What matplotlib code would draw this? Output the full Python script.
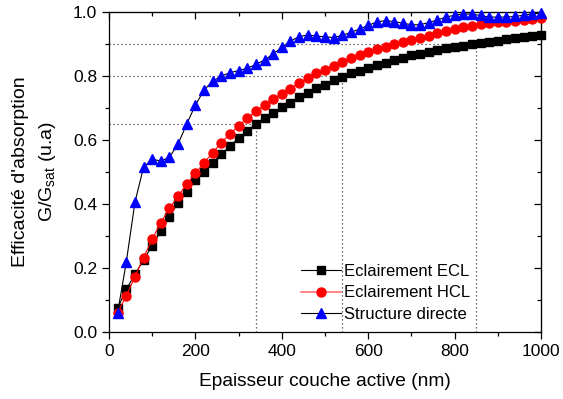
import matplotlib
matplotlib.use("Agg")
import matplotlib.pyplot as plt
from matplotlib.ticker import MultipleLocator

plt.rcParams['font.family'] = ['Liberation Sans', 'DejaVu Sans']
plt.rcParams['mathtext.fontset'] = 'custom'
plt.rcParams['mathtext.rm'] = 'Liberation Sans'
plt.rcParams['mathtext.it'] = 'Liberation Sans'

# thickness (nm)
epaisseur = [20, 40, 60, 80, 100, 120, 140, 160, 180, 200,
             220, 240, 260, 280, 300, 320, 340, 360, 380, 400,
             420, 440, 460, 480, 500, 520, 540, 560, 580, 600,
             620, 640, 660, 680, 700, 720, 740, 760, 780, 800,
             820, 840, 860, 880, 900, 920, 940, 960, 980, 1000]

ecl = [0.074, 0.133, 0.180, 0.225, 0.270, 0.316, 0.360, 0.404, 0.438, 0.475,
       0.500, 0.529, 0.556, 0.581, 0.606, 0.629, 0.650, 0.668, 0.685, 0.702,
       0.717, 0.733, 0.748, 0.761, 0.772, 0.786, 0.796, 0.808, 0.817, 0.826,
       0.834, 0.842, 0.850, 0.857, 0.864, 0.869, 0.874, 0.881, 0.886, 0.892,
       0.895, 0.899, 0.904, 0.907, 0.910, 0.915, 0.918, 0.921, 0.925, 0.928]

hcl = [0.060, 0.113, 0.173, 0.232, 0.290, 0.342, 0.386, 0.425, 0.462, 0.496,
       0.529, 0.560, 0.592, 0.619, 0.644, 0.668, 0.689, 0.708, 0.727, 0.744,
       0.760, 0.777, 0.794, 0.808, 0.820, 0.832, 0.845, 0.855, 0.866, 0.876,
       0.883, 0.892, 0.900, 0.905, 0.912, 0.918, 0.926, 0.933, 0.940, 0.947,
       0.952, 0.957, 0.961, 0.965, 0.968, 0.970, 0.973, 0.975, 0.978, 0.982]

directe = [0.060, 0.218, 0.405, 0.515, 0.540, 0.534, 0.546, 0.588, 0.650, 0.709,
           0.756, 0.784, 0.800, 0.810, 0.817, 0.824, 0.836, 0.850, 0.869, 0.889,
           0.909, 0.923, 0.928, 0.925, 0.922, 0.920, 0.927, 0.936, 0.947, 0.958,
           0.969, 0.973, 0.970, 0.965, 0.960, 0.960, 0.967, 0.975, 0.984, 0.990,
           0.994, 0.993, 0.989, 0.984, 0.984, 0.984, 0.986, 0.990, 0.994, 0.996]

# reference levels (thickness, efficiency)
ref_x = [340, 540, 850]
ref_y = [0.65, 0.80, 0.90]

fig = plt.figure(figsize=(5.63, 3.99), dpi=100)
ax = fig.add_axes([0.1936, 0.168, 0.7674, 0.802])

dot = (0, (1, 2.2))
for rx, ry in zip(ref_x, ref_y):
    ax.plot([0, rx], [ry, ry], color="0.25", lw=0.9, ls=dot, zorder=1)
    ax.plot([rx, rx], [0, ry], color="0.25", lw=0.9, ls=dot, zorder=1)

ax.plot(epaisseur, ecl, color="black", lw=0.8, marker="s", ms=5.5,
        mfc="black", mec="black", clip_on=False, zorder=3)
ax.plot(epaisseur, hcl, color="red", lw=0.8, marker="o", ms=6.5,
        mfc="red", mec="red", clip_on=False, zorder=4)
ax.plot(epaisseur, directe, color="black", lw=0.8, marker="^", ms=7,
        mfc="blue", mec="blue", clip_on=False, zorder=5)

# legend handles (HCL line drawn lighter, as in the original)
h1, = ax.plot([], [], color="black", lw=0.8, marker="s", ms=5.5, mfc="black", mec="black")
h2, = ax.plot([], [], color="#ff7070", lw=1.2, marker="o", ms=6.5, mfc="red", mec="red")
h3, = ax.plot([], [], color="black", lw=0.8, marker="^", ms=7, mfc="blue", mec="blue")

ax.set_xlim(0, 1000)
ax.set_ylim(0, 1.0)
ax.xaxis.set_major_locator(MultipleLocator(200))
ax.xaxis.set_minor_locator(MultipleLocator(100))
ax.yaxis.set_major_locator(MultipleLocator(0.2))
ax.yaxis.set_minor_locator(MultipleLocator(0.1))
ax.yaxis.set_major_formatter(matplotlib.ticker.FormatStrFormatter("%.1f"))
ax.tick_params(which="major", direction="out", length=5, width=0.9, labelsize=12.5)
ax.tick_params(which="minor", direction="out", length=3, width=0.9)
for s in ax.spines.values():
    s.set_linewidth(0.9)

top = ax.secondary_xaxis("top")
top.xaxis.set_major_locator(MultipleLocator(200))
top.xaxis.set_minor_locator(MultipleLocator(100))
top.tick_params(which="major", direction="in", length=5, width=0.9, labeltop=False)
top.tick_params(which="minor", direction="in", length=3, width=0.9)
right = ax.secondary_yaxis("right")
right.yaxis.set_major_locator(MultipleLocator(0.2))
right.yaxis.set_minor_locator(MultipleLocator(0.1))
right.tick_params(which="major", direction="in", length=5, width=0.9, labelright=False)
right.tick_params(which="minor", direction="in", length=3, width=0.9)

ax.set_xlabel("Epaisseur couche active (nm)", fontsize=13.8, labelpad=10)
ax.set_ylabel("Efficacité d'absorption\nG/G$_{\\mathrm{sat}}$ (u.a)", fontsize=14,
              labelpad=11, linespacing=1.5)

ax.legend([h1, h2, h3], ["Eclairement ECL", "Eclairement HCL", "Structure directe"],
          loc="center left", bbox_to_anchor=(0.425, 0.122), frameon=False,
          fontsize=12, handlelength=2.4, handletextpad=0.2, labelspacing=0.4,
          borderpad=0)

fig.savefig("out.png", dpi=100)
